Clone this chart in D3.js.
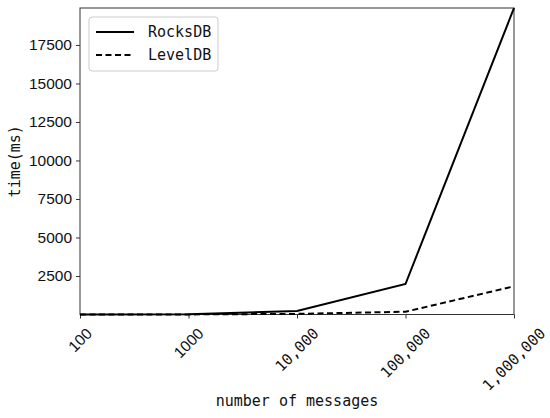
<!DOCTYPE html>
<html>
<head>
<meta charset="utf-8">
<script src="https://cdn.jsdelivr.net/npm/d3@7"></script>
<style>
  body { margin: 0; background: #fff; }
  .mono { font-family: "DejaVu Sans Mono", "Liberation Mono", monospace; }
  .sans { font-family: "Liberation Sans", Arial, sans-serif; }
</style>
</head>
<body>
<svg width="550" height="418"></svg>
<script>
// categories on the x axis
var messages = ["100", "1000", "10,000", "100,000", "1,000,000"];
// time in ms for each category
var rocksdb = [2, 10, 230, 1980, 19900];
var leveldb = [1, 5, 40, 180, 1830];
var yTicks = [2500, 5000, 7500, 10000, 12500, 15000, 17500];

var svg = d3.select("svg");
var plotL = 80, plotR = 514, plotT = 8, plotB = 314.5;

var x = d3.scalePoint().domain(messages).range([plotL, plotR]).padding(0);
var y = d3.scaleLinear().domain([0, d3.max(rocksdb)]).range([plotB, plotT]);

// frame
svg.append("rect")
  .attr("x", plotL).attr("y", plotT)
  .attr("width", plotR - plotL).attr("height", plotB - plotT)
  .attr("fill", "none").attr("stroke", "#333").attr("stroke-width", 1);

// y axis
var yAxis = svg.append("g")
  .attr("transform", "translate(" + plotL + ",0)")
  .call(d3.axisLeft(y).tickValues(yTicks).tickSize(4).tickPadding(4).tickFormat(d3.format("d")));
yAxis.select(".domain").remove();
yAxis.selectAll("line").attr("stroke", "#333");
yAxis.selectAll("text").attr("class", "sans").attr("font-size", 15.5).attr("fill", "#111");

// x axis
var xAxis = svg.append("g")
  .attr("transform", "translate(0," + plotB + ")")
  .call(d3.axisBottom(x).tickSize(4).tickFormat(""));
xAxis.select(".domain").remove();
xAxis.selectAll("line").attr("stroke", "#333");

// rotated x labels, centred on tick like matplotlib
var labTop = plotB + 12;
messages.forEach(function(m, i) {
  var t = svg.append("text")
    .attr("class", i < 2 ? "sans" : "mono")
    .attr("font-size", i < 2 ? 15.5 : 15)
    .attr("fill", "#111")
    .attr("text-anchor", "middle")
    .attr("dominant-baseline", "central")
    .text(m);
  var w = t.node().getComputedTextLength();
  var h = 12;
  var cy = labTop + (w + h) / (2 * Math.SQRT2);
  t.attr("transform", "translate(" + x(m) + "," + cy + ") rotate(-45)");
});

// lines
var line = d3.line()
  .x(function(d, i) { return x(messages[i]); })
  .y(function(d) { return y(d); });

svg.append("path").datum(rocksdb)
  .attr("d", line).attr("fill", "none")
  .attr("stroke", "#000").attr("stroke-width", 2);
svg.append("path").datum(leveldb)
  .attr("d", line).attr("fill", "none")
  .attr("stroke", "#000").attr("stroke-width", 2)
  .attr("stroke-dasharray", "6,3.5");

// axis titles
svg.append("text").attr("class", "mono")
  .attr("x", (plotL + plotR) / 2).attr("y", 406)
  .attr("text-anchor", "middle").attr("font-size", 15).attr("fill", "#111")
  .text("number of messages");
svg.append("text").attr("class", "mono")
  .attr("transform", "translate(20," + ((plotT + plotB) / 2) + ") rotate(-90)")
  .attr("text-anchor", "middle").attr("font-size", 15).attr("fill", "#111")
  .text("time(ms)");

// legend
var lg = svg.append("g");
lg.append("rect")
  .attr("x", 89).attr("y", 17).attr("width", 129).attr("height", 54)
  .attr("rx", 3).attr("fill", "#fff").attr("stroke", "#ccc").attr("stroke-width", 1);
var series = [{ name: "RocksDB", dash: null }, { name: "LevelDB", dash: "6,3.5" }];
series.forEach(function(s, i) {
  var cy = 32 + i * 23;
  lg.append("line")
    .attr("x1", 96).attr("x2", 134).attr("y1", cy).attr("y2", cy)
    .attr("stroke", "#000").attr("stroke-width", 2)
    .attr("stroke-dasharray", s.dash);
  lg.append("text").attr("class", "mono")
    .attr("x", 148).attr("y", cy).attr("dominant-baseline", "central")
    .attr("font-size", 15).attr("fill", "#111")
    .text(s.name);
});
</script>
</body>
</html>
